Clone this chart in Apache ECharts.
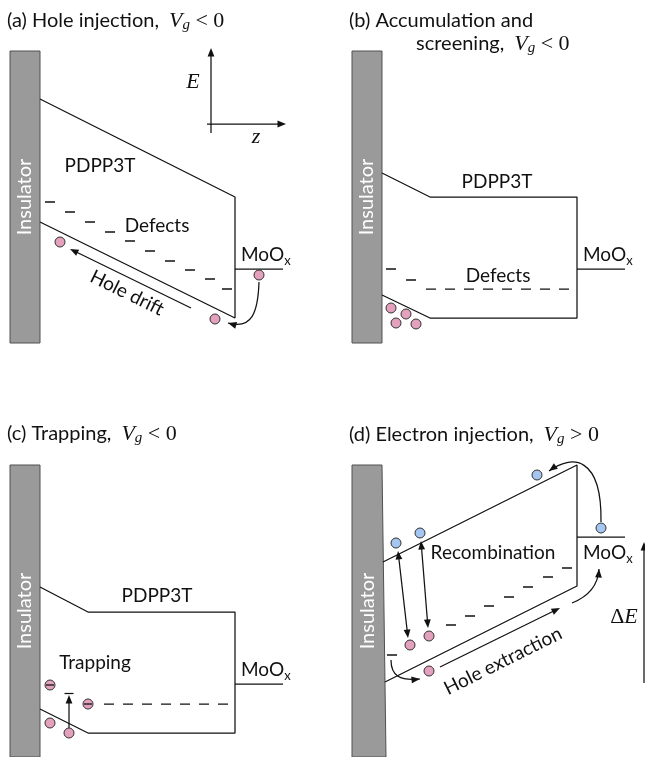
<!DOCTYPE html>
<html>
<head>
<meta charset="utf-8">
<title>PDPP3T / MoOx band diagrams</title>
<script src="https://cdn.jsdelivr.net/npm/echarts@6/dist/echarts.min.js"></script>
<style>
  html, body { margin: 0; padding: 0; background: #fff; }
  #chart { width: 645px; height: 757px; }
</style>
</head>
<body>
<div id="chart"></div>
<script>
// Each panel uses its own coordinate frame: z runs left to right across the
// stack, depth runs downward (higher energy sits higher on the page).

// Insulator slab outlines
const insulatorA = [[10, 51], [40, 51], [40, 343], [10, 343]];
const insulatorB = [[10, 51], [40, 51], [40, 343], [10, 343]];
const insulatorC = [[10, 51], [40, 51], [40, 343], [10, 343]];
const insulatorD = [[10, 51], [40, 51], [44, 343], [10, 343]];

// PDPP3T band edges, drawn as one outline per panel
const bandA = [[40, 99], [235, 197], [235, 318], [40, 222]];
const bandB = [[40, 173], [88, 197], [235, 197], [235, 318], [88, 318], [40, 295]];
const bandC = [[40, 173], [88, 198], [235, 198], [235, 319], [88, 319], [40, 295]];
const bandD = [[41, 148], [235, 51], [235, 172], [43, 268]];

// MoOx contact level
const contactA = [[235, 269], [283, 269]];
const contactB = [[235, 269], [283, 269]];
const contactC = [[235, 270], [283, 270]];
const contactD = [[235, 123], [283, 123]];

// Individual defect states
const defectsA = [[50, 202], [70, 212], [90, 222], [110, 232], [130, 241], [150, 251], [170, 261], [190, 270], [210, 279], [227, 289]];
const defectsB = [[49, 269], [69, 280]];
const defectsD = [[50, 241], [109, 211], [128, 202], [147, 192], [167, 183], [186, 173], [206, 163], [225, 154]];

// Flat trap level
const trapLevelB = [[84, 289], [230, 289]];
const trapLevelC = [[104, 290], [232, 290]];

// Carriers
const holesA = [[60, 242], [215, 319], [259, 275]];
const holesB = [[49, 308], [64, 314], [54, 323], [74, 324]];
const holesC = [[50, 309], [69, 319]];
const holesD = [[68, 231], [87, 222], [87, 257]];
const trappedC = [[50, 271], [88, 290]];
const electronsD = [[195, 61], [259, 114], [54, 129], [78, 119]];

// Straight arrows
const arrowsA = [
  { from: [191, 308], to: [70, 249], head: 'end' },
  { from: [211, 133], to: [211, 48], head: 'end' },
  { from: [207, 124], to: [286, 124], head: 'end' }
];
const arrowsC = [{ from: [69, 314], to: [69, 281], head: 'bar' }];
const arrowsD = [
  { from: [56, 137], to: [66, 224], head: 'both' },
  { from: [79, 127], to: [86, 214], head: 'both' },
  { from: [98, 253], to: [218, 194], head: 'end' },
  { from: [302, 269], to: [302, 128], head: 'end' }
];

// Curved arrows (cubic Bézier: start, control 1, control 2, tip)
const curvesA = [[[259, 282], [258, 312], [252, 330], [228, 323]]];
const curvesD = [
  [[259, 108], [260, 42], [230, 40], [207, 57]],
  [[49, 246], [49, 262], [58, 267], [78, 265]],
  [[230, 189], [245, 183], [256, 172], [257, 155]]
];

// Text
const labelsA = [
  { text: '(a) Hole injection,\u2002{v|V}{s|g}{m| < 0}', at: [7, 21], align: 'left', title: true },
  { text: 'PDPP3T', at: [100, 166] },
  { text: 'Defects', at: [157, 226] },
  { text: 'MoO{x|x}', at: [241, 255], align: 'left' },
  { text: 'Hole drift', at: [127, 293], along: [bandA[3], bandA[2]] },
  { text: '{v|E}', at: [193, 82] },
  { text: '{v|z}', at: [256, 137] }
];
const labelsB = [
  { text: '(b) Accumulation and', at: [7, 21], align: 'left', title: true },
  { text: 'screening,\u2002{v|V}{s|g}{m| < 0}', at: [74, 44], align: 'left', title: true },
  { text: 'PDPP3T', at: [155, 182] },
  { text: 'Defects', at: [156, 276] },
  { text: 'MoO{x|x}', at: [241, 255], align: 'left' }
];
const labelsC = [
  { text: '(c) Trapping,\u2002{v|V}{s|g}{m| < 0}', at: [7, 20], align: 'left', title: true },
  { text: 'PDPP3T', at: [157, 182] },
  { text: 'Trapping', at: [95, 249] },
  { text: 'MoO{x|x}', at: [241, 256], align: 'left' }
];
const labelsD = [
  { text: '(d) Electron injection,\u2002{v|V}{s|g}{m| > 0}', at: [7, 21], align: 'left', title: true },
  { text: 'Recombination', at: [151, 139] },
  { text: 'MoO{x|x}', at: [241, 139], align: 'left' },
  { text: 'Hole extraction', at: [161, 247], along: [bandD[3], bandD[2]] },
  { text: '{d|Δ}{v|E}', at: [282, 203] }
];

// ---- styling ----
const SANS = 'Lato, "Open Sans", sans-serif';
const SERIF = '"Liberation Serif", "DejaVu Serif", serif';
const INK = '#111111';
const HOLE = '#e3a1bd';
const ELECTRON = '#a6c6f2';
const SLAB = '#9a9a9a';
const SLAB_EDGE = '#505050';
const LW = 1.25;

const RICH = {
  v: { fontFamily: SERIF, fontStyle: 'italic', fontSize: 22, fill: INK },
  s: { fontFamily: SERIF, fontStyle: 'italic', fontSize: 15, fill: INK, verticalAlign: 'bottom', lineHeight: 12 },
  m: { fontFamily: SERIF, fontSize: 22, fill: INK },
  d: { fontFamily: SERIF, fontSize: 22, fill: INK },
  x: { fontFamily: SANS, fontSize: 13, fill: INK, verticalAlign: 'bottom', lineHeight: 11 }
};

// panel frames on the page: left, top, width, height
const GRIDS = [[0, 0, 342, 414], [342, 0, 303, 414], [0, 414, 342, 343], [342, 414, 303, 343]];

const PANELS = [
  { slab: insulatorA, band: bandA, contact: contactA, defects: defectsA, level: null, holes: holesA, trapped: [], electrons: [], arrows: arrowsA, curves: curvesA, labels: labelsA },
  { slab: insulatorB, band: bandB, contact: contactB, defects: defectsB, level: trapLevelB, holes: holesB, trapped: [], electrons: [], arrows: [], curves: [], labels: labelsB },
  { slab: insulatorC, band: bandC, contact: contactC, defects: [], level: trapLevelC, holes: holesC, trapped: trappedC, electrons: [], arrows: arrowsC, curves: [], labels: labelsC },
  { slab: insulatorD, band: bandD, contact: contactD, defects: defectsD, level: null, holes: holesD, trapped: [], electrons: electronsD, arrows: arrowsD, curves: curvesD, labels: labelsD }
];

function head(tip, from, len, half) {
  const dx = tip[0] - from[0], dy = tip[1] - from[1];
  const d = Math.hypot(dx, dy) || 1;
  const ux = dx / d, uy = dy / d;
  const bx = tip[0] - ux * len, by = tip[1] - uy * len;
  return {
    type: 'polygon',
    shape: { points: [tip, [bx - uy * half, by + ux * half], [bx + uy * half, by - ux * half]] },
    style: { fill: INK }
  };
}

function drawSlab(poly, api) {
  const pts = poly.map(p => api.coord(p));
  const xs = poly.map(p => p[0]), ys = poly.map(p => p[1]);
  const c = api.coord([xs.reduce((a, b) => a + b, 0) / xs.length, (Math.min(...ys) + Math.max(...ys)) / 2]);
  return {
    type: 'group',
    children: [
      { type: 'polygon', shape: { points: pts }, style: { fill: SLAB, stroke: SLAB_EDGE, lineWidth: 1 } },
      { type: 'text', x: c[0], y: c[1], rotation: Math.PI / 2,
        style: { text: 'Insulator', fill: '#ffffff', fontFamily: SANS, fontSize: 20, align: 'center', verticalAlign: 'middle' } }
    ]
  };
}

function drawArrow(a, api) {
  const p = api.coord(a.from), q = api.coord(a.to);
  const L = 8.5, H = 3.4;
  const dx = q[0] - p[0], dy = q[1] - p[1], d = Math.hypot(dx, dy);
  const ux = dx / d, uy = dy / d;
  const end = [q[0] - ux * (L - 1), q[1] - uy * (L - 1)];
  let start = p;
  const kids = [head(q, p, L, H)];
  if (a.head === 'both') {
    start = [p[0] + ux * (L - 1), p[1] + uy * (L - 1)];
    kids.push(head(p, q, L, H));
  }
  if (a.head === 'bar') {
    kids.push({ type: 'line', shape: { x1: q[0] - uy * 4.5, y1: q[1] + ux * 4.5 - 1.5, x2: q[0] + uy * 4.5, y2: q[1] - ux * 4.5 - 1.5 },
      style: { stroke: INK, lineWidth: LW } });
  }
  kids.unshift({ type: 'line', shape: { x1: start[0], y1: start[1], x2: end[0], y2: end[1] }, style: { stroke: INK, lineWidth: LW } });
  return { type: 'group', children: kids };
}

function drawCurve(c, api) {
  const [p0, p1, p2, p3] = c.map(p => api.coord(p));
  return {
    type: 'group',
    children: [
      { type: 'bezierCurve',
        shape: { x1: p0[0], y1: p0[1], cpx1: p1[0], cpy1: p1[1], cpx2: p2[0], cpy2: p2[1], x2: p3[0], y2: p3[1] },
        style: { stroke: INK, lineWidth: LW, fill: null } },
      head(p3, p2, 8.5, 3.4)
    ]
  };
}

function drawLabel(lb, api) {
  const p = api.coord(lb.at);
  let rotation = 0;
  if (lb.along) {
    const a = api.coord(lb.along[0]), b = api.coord(lb.along[1]);
    rotation = Math.atan2(-(b[1] - a[1]), b[0] - a[0]);
  }
  return {
    type: 'text', x: p[0], y: p[1], rotation,
    style: { text: lb.text, fill: INK, fontFamily: SANS, fontSize: lb.title ? 20 : 19, lineHeight: 24,
      align: lb.align || 'center', verticalAlign: 'middle', rich: RICH }
  };
}

function custom(i, items, draw, z) {
  return {
    type: 'custom', coordinateSystem: 'cartesian2d', xAxisIndex: i, yAxisIndex: i,
    silent: true, z, data: items.map((_, k) => [k]),
    renderItem: (params, api) => draw(items[params.dataIndex], api)
  };
}

function line(i, pts, extra) {
  return {
    type: 'line', xAxisIndex: i, yAxisIndex: i, data: pts, symbol: 'none', silent: true, z: 3,
    lineStyle: Object.assign({ color: INK, width: LW }, extra || {})
  };
}

function dots(i, pts, symbol, size, fill, border, z) {
  return {
    type: 'scatter', xAxisIndex: i, yAxisIndex: i, data: pts, symbol, symbolSize: size, silent: true, z,
    itemStyle: { color: fill, borderColor: border || fill, borderWidth: border ? 1 : 0, opacity: 1 }
  };
}

const series = [];
PANELS.forEach((pn, i) => {
  series.push(custom(i, [pn.slab], drawSlab, 2));
  series.push(line(i, pn.band));
  series.push(line(i, pn.contact));
  if (pn.level) series.push(line(i, pn.level, { type: [10, 9] }));
  if (pn.defects.length) series.push(dots(i, pn.defects, 'rect', [10, 1.5], INK, null, 4));
  if (pn.holes.length) series.push(dots(i, pn.holes, 'circle', 10, HOLE, '#333', 6));
  if (pn.trapped.length) {
    series.push(dots(i, pn.trapped, 'circle', 10, HOLE, '#333', 6));
    series.push(dots(i, pn.trapped, 'rect', [8, 1.3], INK, null, 7));
  }
  if (pn.electrons.length) series.push(dots(i, pn.electrons, 'circle', 10, ELECTRON, '#333', 6));
  if (pn.arrows.length) series.push(custom(i, pn.arrows, drawArrow, 5));
  if (pn.curves.length) series.push(custom(i, pn.curves, drawCurve, 5));
  series.push(custom(i, pn.labels, drawLabel, 8));
});

const chart = echarts.init(document.getElementById('chart'), null, { renderer: 'canvas' });
chart.setOption({
  backgroundColor: '#ffffff',
  animation: false,
  grid: GRIDS.map(g => ({ left: g[0], top: g[1], width: g[2], height: g[3] })),
  xAxis: GRIDS.map((g, i) => ({ type: 'value', gridIndex: i, min: 0, max: g[2], show: false })),
  yAxis: GRIDS.map((g, i) => ({ type: 'value', gridIndex: i, min: 0, max: g[3], inverse: true, show: false })),
  series
});
</script>
</body>
</html>
